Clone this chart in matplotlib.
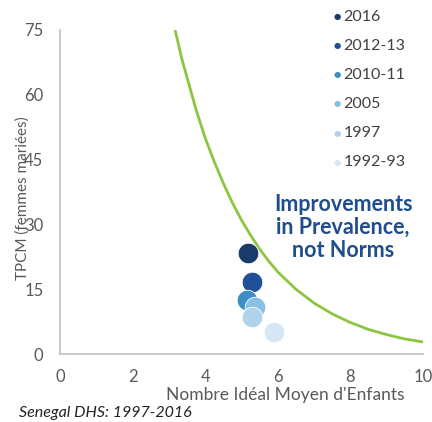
import numpy as np
import matplotlib.pyplot as plt

plt.rcParams['font.family'] = ['Lato', 'DejaVu Sans']

# survey points: ideal family size vs modern contraceptive prevalence
surveys = ['2016', '2012-13', '2010-11', '2005', '1997', '1992-93']
ideal_children = [5.18, 5.29, 5.15, 5.37, 5.29, 5.90]
tpcm = [23.4, 16.6, 12.4, 10.8, 8.5, 5.0]
colors = ['#1b3a6c', '#1f4f97', '#3a8fc7', '#88bfe2', '#b0d3ec', '#d5e7f5']

# green reference curve
curve_x = [3.17, 3.35, 3.5, 3.75, 4.0, 4.25, 4.5, 4.75, 5.0, 5.25, 5.5, 5.75, 6.0, 6.5,
           7.0, 7.5, 8.0, 8.5, 9.0, 9.5, 10.0]
curve_y = [75, 68.5, 64, 56.5, 50, 44.5, 39.5, 35, 31, 27.5, 24.3, 21.5, 19, 15,
           11.8, 9.3, 7.3, 5.7, 4.5, 3.5, 2.8]

fig = plt.figure(figsize=(4.32, 4.22), dpi=100)
ax = fig.add_axes([0.139, 0.161, 0.840, 0.768])

ax.plot(curve_x, curve_y, color='#8cc63f', lw=2, zorder=2)

for i in range(len(surveys)):
    ax.scatter(ideal_children[i], tpcm[i], s=220, color=colors[i],
               edgecolors='white', linewidths=0.6, zorder=3 + i)

ax.set_xlim(0, 10)
ax.set_ylim(0, 75)
ax.set_xticks([0, 2, 4, 6, 8, 10])
ax.set_yticks([0, 15, 30, 45, 60, 75])
ax.tick_params(length=0, labelsize=12, labelcolor='#595959')
ax.tick_params(axis='y', pad=12)
ax.tick_params(axis='x', pad=11)
for s in ['top', 'right']:
    ax.spines[s].set_visible(False)
for s in ['left', 'bottom']:
    ax.spines[s].set_color('#bfbfbf')
    ax.spines[s].set_linewidth(1.2)

fig.text(0.053, 0.53, 'TPCM (femmes mariées)', fontsize=11, color='#595959',
         rotation=90, ha='center', va='center')
fig.text(0.66, 0.064, "Nombre Idéal Moyen d'Enfants", fontsize=12.5,
         color='#595959', ha='center', va='center')
fig.text(0.045, 0.022, 'Senegal DHS: 1997-2016', fontsize=11.5,
         style='italic', color='#222222', ha='left', va='center')

ax.text(0.78, 0.39, 'Improvements\nin Prevalence,\nnot Norms', transform=ax.transAxes,
        fontsize=15.5, fontweight='bold', color='#1f4e8c', ha='center', va='center',
        linespacing=1.1)

# legend
for i, lab in enumerate(surveys):
    yy = 0.960 - i * 0.0688
    fig.text(0.780, yy, '●', fontsize=6, color=colors[i], ha='center', va='center',
             family='DejaVu Sans')
    fig.text(0.795, yy, lab, fontsize=11.5, color='#404040', ha='left', va='center')

fig.savefig('out.png', dpi=100)
